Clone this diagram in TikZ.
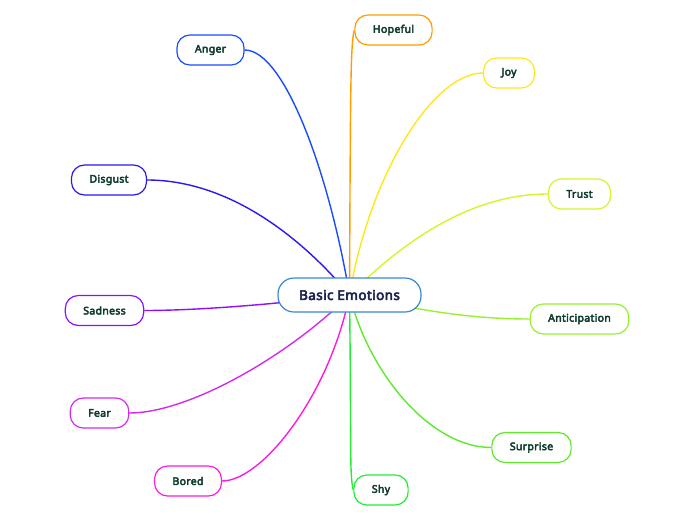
\documentclass[tikz,border=0pt]{standalone}
\usepackage{fontspec}
\setmainfont{Noto Sans}[BoldFont={Noto Sans},BoldFeatures={FakeBold=4,LetterSpace=3}]
\usetikzlibrary{backgrounds}
\definecolor{cBorder}{HTML}{3A88D0}
\definecolor{cText}{HTML}{1A2550}
\definecolor{lText}{HTML}{0F3D2E}
\definecolor{cAnger}{HTML}{1A4CFF}
\definecolor{cHope}{HTML}{FF9C00}
\definecolor{cJoy}{HTML}{FFE81A}
\definecolor{cTrust}{HTML}{D4F528}
\definecolor{cAnti}{HTML}{98F032}
\definecolor{cSurp}{HTML}{5CEB2A}
\definecolor{cShy}{HTML}{22EE33}
\definecolor{cBored}{HTML}{FF1ADD}
\definecolor{cFear}{HTML}{D42AEE}
\definecolor{cSad}{HTML}{8A10FF}
\definecolor{cDisg}{HTML}{2A18F0}
\tikzset{
  leaf/.style={draw=#1, fill=white, line width=1.2pt, rounded corners=13pt,
    minimum height=30pt, inner xsep=18pt, text=lText,
    font=\fontsize{10.5}{12}\selectfont\bfseries},
  center/.style={draw=cBorder, fill=white, line width=1.2pt, rounded corners=16pt,
    minimum height=34pt, minimum width=143pt, text=cText,
    font=\fontsize{13.5}{15}\selectfont\bfseries},
  link/.style={draw=#1, line width=1.4pt}
}
\begin{document}
\begin{tikzpicture}[x=1pt,y=-1pt]
\useasboundingbox (0,0) rectangle (696,520);
\node[center] (c) at (349.5,295) {Basic Emotions};
\node[leaf=cAnger] (anger) at (210.5,50) {Anger};
\node[leaf=cHope] (hopeful) at (393.5,30) {Hopeful};
\node[leaf=cJoy] (joy) at (509,73) {Joy};
\node[leaf=cTrust] (trust) at (579.5,194) {Trust};
\node[leaf=cAnti] (anti) at (579.5,319) {Anticipation};
\node[leaf=cSurp] (surp) at (531.5,447.5) {Surprise};
\node[leaf=cShy] (shy) at (381,490) {Shy};
\node[leaf=cBored] (bored) at (188,481) {Bored};
\node[leaf=cFear] (fear) at (99.5,413) {Fear};
\node[leaf=cSad] (sad) at (104.5,310.5) {Sadness};
\node[leaf=cDisg] (disg) at (109,180) {Disgust};
\begin{scope}[on background layer]
\draw[link=cAnger] (c.center) .. controls +(-20,-120) and +(40,0) .. (anger.east);
\draw[link=cHope] (c.center) .. controls +(1,-200) and +(-4,15) .. (hopeful.west);
\draw[link=cJoy] (c.center) .. controls +(20,-120) and +(-50,0) .. (joy.west);
\draw[link=cTrust] (c.center) .. controls +(50,-50) and +(-80,0) .. (trust.west);
\draw[link=cAnti] (c.center) .. controls +(80,18) and +(-50,0) .. (anti.west);
\draw[link=cSurp] (c.center) .. controls +(20,80) and +(-60,0) .. (surp.west);
\draw[link=cShy] (c.center) .. controls +(2,150) and +(-4,-15) .. (shy.west);
\draw[link=cBored] (c.center) .. controls +(-20,100) and +(40,0) .. (bored.east);
\draw[link=cFear] (c.center) .. controls +(-60,60) and +(60,0) .. (fear.east);
\draw[link=cSad] (c.center) .. controls +(-80,10) and +(50,0) .. (sad.east);
\draw[link=cDisg] (c.center) .. controls +(-50,-60) and +(80,0) .. (disg.east);
\end{scope}
\end{tikzpicture}
\end{document}
